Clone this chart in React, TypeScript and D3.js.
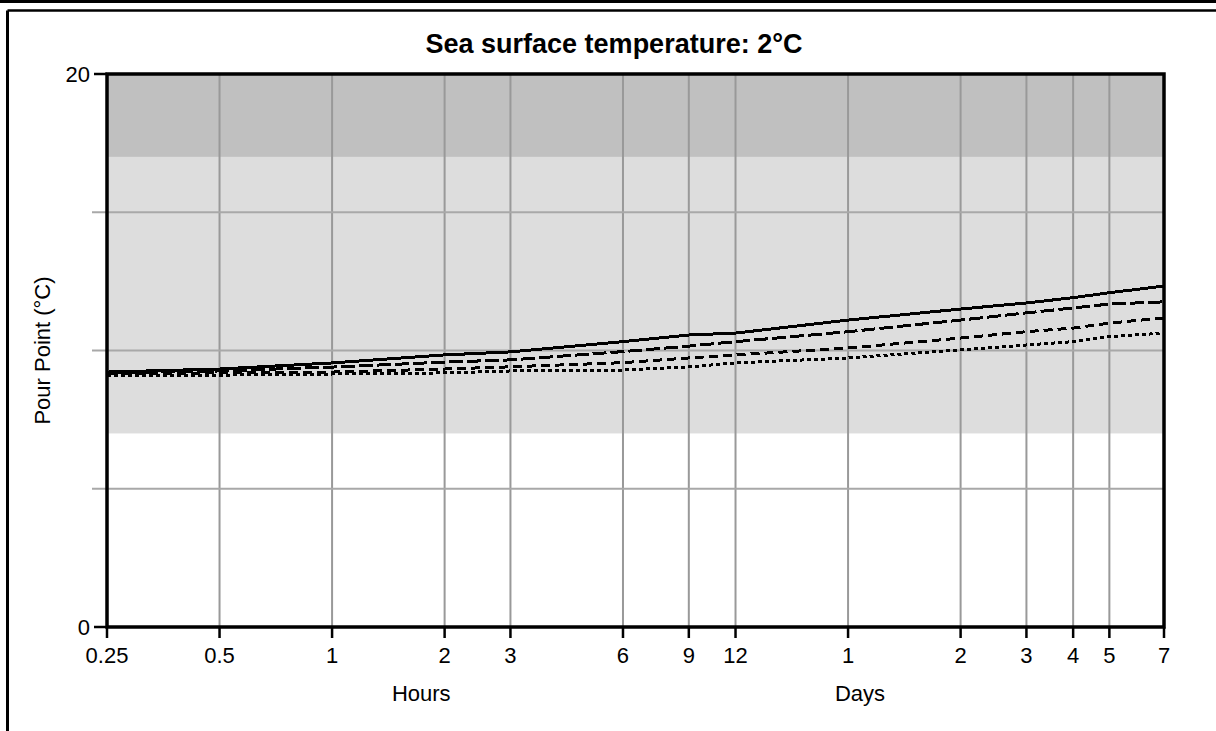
import React from "react";
import * as d3 from "d3";

// Exposure times in hours, and the labels shown under each tick
const timeHours = [0.25, 0.5, 1, 2, 3, 6, 9, 12, 24, 48, 72, 96, 120, 168];
const tickLabels = ["0.25", "0.5", "1", "2", "3", "6", "9", "12", "1", "2", "3", "4", "5", "7"];

// Pour point (°C) for four weathering series
const seriesSolid = [9.22, 9.33, 9.55, 9.84, 9.95, 10.32, 10.56, 10.63, 11.1, 11.5, 11.72, 11.91, 12.09, 12.33];
const seriesLongDash = [9.19, 9.26, 9.4, 9.58, 9.66, 9.96, 10.16, 10.32, 10.68, 11.1, 11.36, 11.54, 11.68, 11.76];
const seriesDash = [9.15, 9.19, 9.22, 9.33, 9.41, 9.56, 9.73, 9.84, 10.09, 10.45, 10.68, 10.81, 10.99, 11.18];
const seriesDotted = [9.11, 9.11, 9.15, 9.19, 9.26, 9.29, 9.41, 9.55, 9.73, 10.02, 10.2, 10.32, 10.5, 10.63];

// Shaded ranges on the pour-point axis
const bandLight = [7, 17];
const bandDark = [17, 20];

const yDomain = [0, 20];
const yGridValues = [5, 10, 15];
const yLabelValues = [0, 20];

const W = 1216;
const H = 731;
const left = 107;
const right = 1164;
const top = 74;
const bottom = 627;

const FONT = "'Liberation Sans', Arial, sans-serif";

export default function App() {
  const x = d3.scaleLog().domain([0.25, 168]).range([left, right]);
  const y = d3.scaleLinear().domain(yDomain).range([bottom, top]);

  const seriesList = [
    { values: seriesSolid, dash: null },
    { values: seriesLongDash, dash: "14,4" },
    { values: seriesDash, dash: "9,5" },
    { values: seriesDotted, dash: "4,3" },
  ];

  const lineGen = (vals: number[]) =>
    d3.line<number>()
      .x((_, i) => x(timeHours[i]))
      .y((v) => y(v))(vals) || "";

  return (
    <svg
      width={W}
      height={H}
      style={{ position: "absolute", left: 0, top: 0, background: "#fff" }}
      fontFamily={FONT}
    >
      {/* outer frame */}
      <rect x={0} y={0} width={W} height={3} fill="#000" />
      <line x1={7.5} y1={10.5} x2={W} y2={10.5} stroke="#000" strokeWidth={2.5} />
      <line x1={7.5} y1={10.5} x2={7.5} y2={H} stroke="#000" strokeWidth={3} />

      <text x={614} y={53} textAnchor="middle" fontSize={27} fontWeight="bold" fill="#000">
        Sea surface temperature: 2°C
      </text>

      {/* bands */}
      <rect x={left} y={y(bandDark[1])} width={right - left} height={y(bandDark[0]) - y(bandDark[1])} fill="#c0c0c0" />
      <rect x={left} y={y(bandLight[1])} width={right - left} height={y(bandLight[0]) - y(bandLight[1])} fill="#dddddd" />

      {/* vertical grid */}
      {timeHours.map((t, i) => (
        <line key={"vg" + i} x1={x(t)} x2={x(t)} y1={top} y2={bottom} stroke="#999" strokeWidth={2} />
      ))}
      {/* horizontal grid, extending left as unlabelled ticks */}
      {yGridValues.map((v) => (
        <line key={"hg" + v} x1={92} x2={right} y1={y(v)} y2={y(v)} stroke="#a8a8a8" strokeWidth={2} />
      ))}

      {/* data lines */}
      {seriesList.map((s, i) => (
        <path
          key={"s" + i}
          d={lineGen(s.values)}
          fill="none"
          stroke="#000"
          strokeWidth={3}
          strokeDasharray={s.dash || undefined}
          shapeRendering="crispEdges"
        />
      ))}

      {/* plot frame */}
      <rect x={left} y={top} width={right - left} height={bottom - top} fill="none" stroke="#000" strokeWidth={3.5} />

      {/* y ticks and labels */}
      {yLabelValues.map((v) => (
        <g key={"yt" + v}>
          <line x1={94} x2={left} y1={y(v)} y2={y(v)} stroke="#000" strokeWidth={2.5} />
          <text x={90} y={y(v) + 8} textAnchor="end" fontSize={22} fill="#000">
            {v}
          </text>
        </g>
      ))}

      {/* x ticks and labels */}
      {timeHours.map((t, i) => (
        <g key={"xt" + i}>
          <line x1={x(t)} x2={x(t)} y1={bottom} y2={bottom + 11} stroke="#000" strokeWidth={2.5} />
          <text x={x(t)} y={bottom + 36} textAnchor="middle" fontSize={22} fill="#000">
            {tickLabels[i]}
          </text>
        </g>
      ))}

      <text x={(x(0.25) + x(12)) / 2} y={701} textAnchor="middle" fontSize={22} fill="#000">
        Hours
      </text>
      <text x={860} y={701} textAnchor="middle" fontSize={22} fill="#000">
        Days
      </text>
      <text
        transform={`translate(50, ${(top + bottom) / 2}) rotate(-90)`}
        textAnchor="middle"
        fontSize={22}
        fill="#000"
      >
        Pour Point (°C)
      </text>
    </svg>
  );
}
